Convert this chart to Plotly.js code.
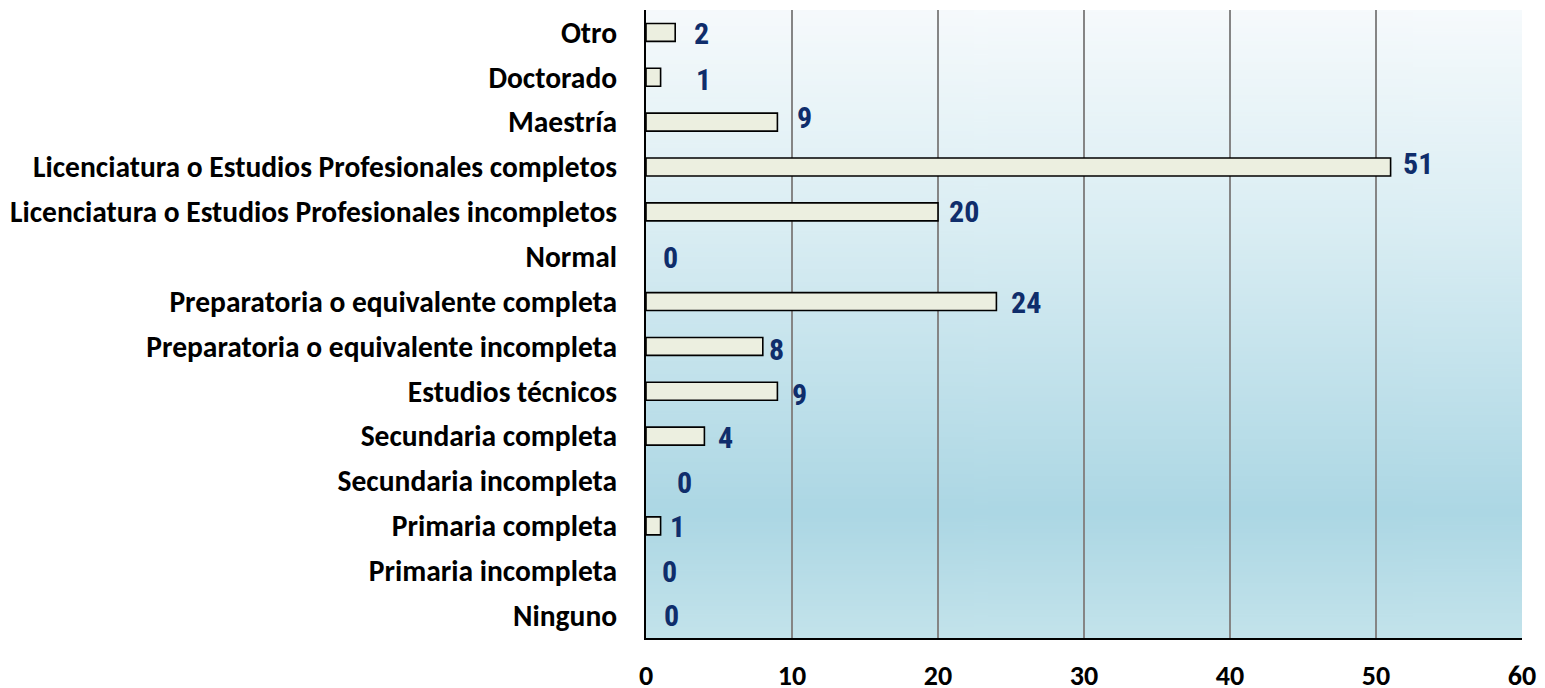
<!DOCTYPE html>
<html>
<head>
<meta charset="utf-8">
<script src="https://cdn.plot.ly/plotly-3.0.1.min.js"></script>
<style>
  html, body { margin: 0; padding: 0; background: #ffffff; }
  #chart { width: 1545px; height: 688px; }
  /* cifras de las barras en tipografía estrecha */
  #chart .annotation-text { font-stretch: condensed !important; }
</style>
</head>
<body>
<div id="chart"></div>
<script>
// Nivel de estudios: categorías de arriba hacia abajo
const categorias = [
  'Otro',
  'Doctorado',
  'Maestría',
  'Licenciatura o Estudios Profesionales completos',
  'Licenciatura o Estudios Profesionales incompletos',
  'Normal',
  'Preparatoria o equivalente completa',
  'Preparatoria o equivalente incompleta',
  'Estudios técnicos',
  'Secundaria completa',
  'Secundaria incompleta',
  'Primaria completa',
  'Primaria incompleta',
  'Ninguno'
];
const valores = [2, 1, 9, 51, 20, 0, 24, 8, 9, 4, 0, 1, 0, 0];
const ticksX = [0, 10, 20, 30, 40, 50, 60];

// Desplazamiento (px) de cada etiqueta de valor respecto al extremo de su barra
const desplazX = [16, 32, 17, 8, 7, 14, 11, 3, 12, 11, 28, 6, 13, 15];
const desplazY = [-1, -2, 5, 4, 0, -1, -1, -3, -3, -1, -1, -1, -1, 0];

const fuenteEjes = 'Carlito, Calibri, Lato, sans-serif';
const fuenteValores = 'Roboto, "Arial Narrow", sans-serif';

// Fondo degradado del área de trazado
function degradado() {
  const c = document.createElement('canvas');
  c.width = 4; c.height = 600;
  const g = c.getContext('2d');
  const lg = g.createLinearGradient(0, 0, 0, 600);
  lg.addColorStop(0.00, '#f6fafc');
  lg.addColorStop(0.35, '#d9edf3');
  lg.addColorStop(0.80, '#acd7e4');
  lg.addColorStop(1.00, '#c3e3eb');
  g.fillStyle = lg;
  g.fillRect(0, 0, 4, 600);
  return c.toDataURL('image/png');
}

const trazo = {
  type: 'bar',
  orientation: 'h',
  x: valores,
  y: categorias,
  marker: {
    color: '#ecefe0',
    line: { color: '#000000', width: valores.map(v => (v > 0 ? 1.6 : 0)) }
  },
  hoverinfo: 'skip'
};

const etiquetas = valores.map((v, i) => ({
  x: v,
  y: categorias[i],
  xref: 'x',
  yref: 'y',
  text: String(v),
  showarrow: false,
  xanchor: 'left',
  yanchor: 'middle',
  xshift: desplazX[i],
  yshift: desplazY[i],
  font: { family: fuenteValores, size: 30, color: '#0f2d6b', weight: 'bold', stretch: 'condensed' }
}));

const layout = {
  width: 1545,
  height: 688,
  margin: { l: 646, r: 23, t: 10, b: 50 },
  paper_bgcolor: '#ffffff',
  plot_bgcolor: 'rgba(0,0,0,0)',
  showlegend: false,
  bargap: 0.6,
  font: { family: fuenteEjes, color: '#000000' },
  xaxis: {
    range: [0, 60],
    tickvals: ticksX,
    ticktext: ticksX.map(String),
    showgrid: true,
    gridcolor: '#858585',
    gridwidth: 1.6,
    zeroline: false,
    showline: true,
    linecolor: '#000000',
    linewidth: 2,
    ticks: '',
    ticklabelstandoff: 11,
    tickfont: { family: fuenteEjes, size: 28, color: '#000000', weight: 'bold' },
    fixedrange: true
  },
  yaxis: {
    type: 'category',
    categoryorder: 'array',
    categoryarray: categorias,
    autorange: 'reversed',
    showgrid: false,
    zeroline: false,
    showline: true,
    linecolor: '#000000',
    linewidth: 2,
    ticks: '',
    ticklabelstandoff: 21,
    tickfont: { family: fuenteEjes, size: 29.5, color: '#000000', weight: 'bold' },
    fixedrange: true
  },
  annotations: etiquetas,
  images: [{
    source: degradado(),
    xref: 'paper', yref: 'paper',
    x: 0, y: 1, sizex: 1, sizey: 1,
    xanchor: 'left', yanchor: 'top',
    sizing: 'stretch',
    layer: 'below'
  }]
};

Plotly.newPlot('chart', [trazo], layout, { displayModeBar: false, staticPlot: true });
</script>
</body>
</html>
